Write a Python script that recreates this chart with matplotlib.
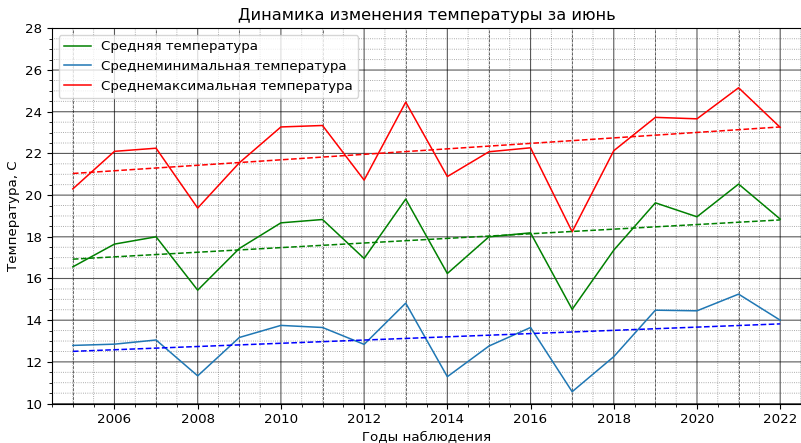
import numpy as np
import matplotlib
matplotlib.use("Agg")
import matplotlib.pyplot as plt
from matplotlib.ticker import MultipleLocator

years = list(range(2005, 2023))
t_mean = [16.56, 17.65, 18.0, 15.44, 17.44, 18.67, 18.83, 16.96, 19.81, 16.24,
          18.0, 18.19, 14.52, 17.36, 19.63, 18.96, 20.53, 18.85]
t_min = [12.79, 12.85, 13.05, 11.33, 13.17, 13.75, 13.65, 12.84, 14.82, 11.29,
         12.76, 13.65, 10.57, 12.25, 14.48, 14.45, 15.25, 14.0]
t_max = [20.3, 22.1, 22.25, 19.38, 21.55, 23.27, 23.34, 20.72, 24.46, 20.89,
         22.08, 22.27, 18.24, 22.13, 23.73, 23.66, 25.15, 23.25]

labels = ["Средняя температура", "Среднеминимальная температура",
          "Среднемаксимальная температура"]


def trend(x, y):
    k, b = np.polyfit(x, y, 1)
    return np.array(x) * k + b


plt.rcParams["font.size"] = 9.6

fig = plt.figure(figsize=(8.01, 4.43), dpi=100)
ax = fig.add_axes([0.065, 0.089, 0.935, 0.847])

ax.plot(years, t_mean, color="green", lw=1.1, label=labels[0])
ax.plot(years, t_min, color="tab:blue", lw=1.1, label=labels[1])
ax.plot(years, t_max, color="red", lw=1.1, label=labels[2])

ax.plot(years, trend(years, t_mean), color="green", ls="--", lw=1.1)
ax.plot(years, trend(years, t_min), color="blue", ls="--", lw=1.1)
ax.plot(years, trend(years, t_max), color="red", ls="--", lw=1.1)

ax.set_xlim(2004.5, 2022.5)
ax.set_ylim(10, 28)
ax.xaxis.set_major_locator(MultipleLocator(2))
ax.xaxis.set_minor_locator(MultipleLocator(0.5))
ax.yaxis.set_major_locator(MultipleLocator(2))
ax.yaxis.set_minor_locator(MultipleLocator(0.5))

ax.grid(which="major", color="k", lw=0.8, alpha=0.65, snap=False)
ax.grid(which="minor", color="k", ls=":", lw=0.6, alpha=0.45, snap=False)
for yr in years:
    if yr % 2:
        ax.axvline(yr, color="k", ls="--", lw=0.6, alpha=0.65, zorder=0.5)

ax.set_title("Динамика изменения температуры за июнь", fontsize=11.6)
ax.set_xlabel("Годы наблюдения", labelpad=3)
ax.set_ylabel("Температура, С")
ax.legend(loc="upper left")

fig.savefig("out.png", dpi=100)
